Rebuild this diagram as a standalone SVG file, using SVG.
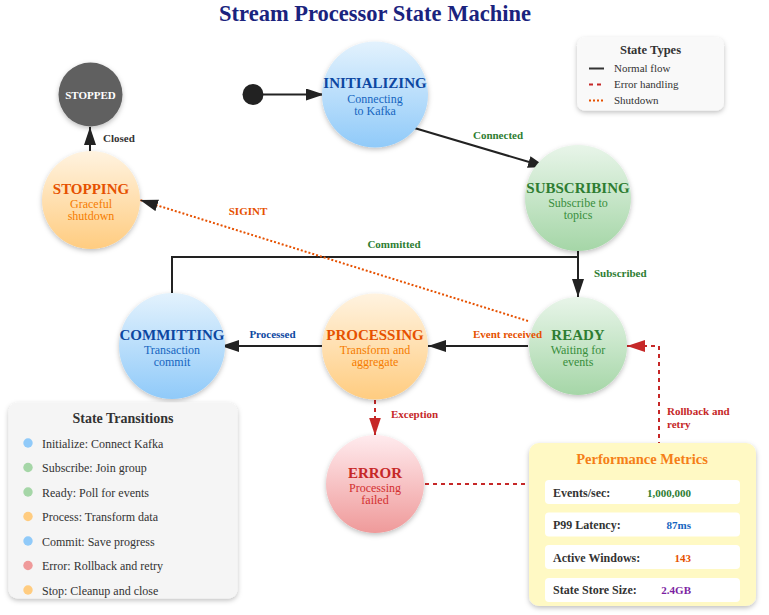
<svg xmlns="http://www.w3.org/2000/svg" width="769" height="615" viewBox="0 0 769 615">
<style>
text{font-family:"Liberation Serif","Times New Roman",serif}
.nt{font-size:15px;font-weight:bold;text-anchor:middle}
.ns{font-size:12px;text-anchor:middle}
.lb{font-size:11px;font-weight:bold}
.solid{fill:none;stroke:#222;stroke-width:2}
.err{fill:none;stroke:#c62828;stroke-width:2;stroke-dasharray:4,4}
.shut{fill:none;stroke:#e65100;stroke-width:2;stroke-dasharray:2,2}
.tr{font-size:12px;fill:#333}
.mk{font-size:12px;font-weight:bold;fill:#333}
.mv{font-size:11px;font-weight:bold;text-anchor:end}
</style>
<defs>
<linearGradient id="gBlue" x1="0" y1="0" x2="0" y2="1"><stop offset="0" stop-color="#e3f2fd"/><stop offset="1" stop-color="#90caf9"/></linearGradient>
<linearGradient id="gGreen" x1="0" y1="0" x2="0" y2="1"><stop offset="0" stop-color="#e8f5e9"/><stop offset="1" stop-color="#a5d6a7"/></linearGradient>
<linearGradient id="gOrange" x1="0" y1="0" x2="0" y2="1"><stop offset="0" stop-color="#fff3e0"/><stop offset="1" stop-color="#ffcc80"/></linearGradient>
<linearGradient id="gRed" x1="0" y1="0" x2="0" y2="1"><stop offset="0" stop-color="#ffebee"/><stop offset="1" stop-color="#ef9a9a"/></linearGradient>
<filter id="sh" x="-30%" y="-30%" width="160%" height="160%"><feDropShadow dx="0" dy="2" stdDeviation="2.5" flood-color="#000" flood-opacity="0.25"/></filter>
<marker id="aBlk" markerUnits="userSpaceOnUse" viewBox="0 0 18 12" markerWidth="18" markerHeight="12" refX="18" refY="6" orient="auto"><path d="M0,0 L18,6 L0,12 z" fill="#222"/></marker>
<marker id="aRed" markerUnits="userSpaceOnUse" viewBox="0 0 18 12" markerWidth="18" markerHeight="12" refX="18" refY="6" orient="auto"><path d="M0,0 L18,6 L0,12 z" fill="#c62828"/></marker>
</defs>
<rect width="769" height="615" fill="#fff"/>
<text x="375" y="21" text-anchor="middle" font-size="22.5" font-weight="bold" fill="#1a237e">Stream Processor State Machine</text>

<g id="connectors">
<path class="solid" d="M263,94.5 L324,94.5" marker-end="url(#aBlk)"/>
<path class="solid" d="M411,127 L546,167" marker-end="url(#aBlk)"/>
<path class="solid" d="M90,152 L90,127" marker-end="url(#aBlk)"/>
<path class="solid" d="M172,294 V257 H578"/>
<path class="solid" d="M578,249 L578,297" marker-end="url(#aBlk)"/>
<path class="solid" d="M528,346 L428,346" marker-end="url(#aBlk)"/>
<path class="solid" d="M322,346 L221,346" marker-end="url(#aBlk)"/>
<path class="err" d="M375,400 L375,435.5" marker-end="url(#aRed)"/>
<path class="err" d="M425,484 H659 V346 H627" marker-end="url(#aRed)"/>
<path class="shut" d="M528,321 L140,200" marker-end="url(#aBlk)"/>
</g>

<g id="start"><circle cx="253" cy="94.5" r="10.5" fill="#222"/></g>

<g id="stopped">
<circle cx="90.5" cy="94.5" r="32" fill="#616161" filter="url(#sh)"/>
<text x="90.5" y="99" text-anchor="middle" font-size="11" font-weight="bold" fill="#fff">STOPPED</text>
</g>

<g id="initializing">
<circle cx="375" cy="94.5" r="53" fill="url(#gBlue)" filter="url(#sh)"/>
<text class="nt" x="375" y="88" fill="#0d47a1">INITIALIZING</text>
<text class="ns" x="375" y="102.5" fill="#1565c0">Connecting</text>
<text class="ns" x="375" y="114.5" fill="#1565c0">to Kafka</text>
</g>

<g id="subscribing">
<circle cx="578" cy="198" r="53" fill="url(#gGreen)" filter="url(#sh)"/>
<text class="nt" x="578" y="192.5" fill="#2e7d32">SUBSCRIBING</text>
<text class="ns" x="578" y="206.5" fill="#388e3c">Subscribe to</text>
<text class="ns" x="578" y="218.5" fill="#388e3c">topics</text>
</g>

<g id="ready">
<circle cx="578" cy="346" r="49" fill="url(#gGreen)" filter="url(#sh)"/>
<text class="nt" x="578" y="340" fill="#2e7d32">READY</text>
<text class="ns" x="578" y="354" fill="#388e3c">Waiting for</text>
<text class="ns" x="578" y="366" fill="#388e3c">events</text>
</g>

<g id="processing">
<circle cx="375" cy="346.5" r="53" fill="url(#gOrange)" filter="url(#sh)"/>
<text class="nt" x="375" y="340" fill="#e65100">PROCESSING</text>
<text class="ns" x="375" y="354" fill="#f57c00">Transform and</text>
<text class="ns" x="375" y="366" fill="#f57c00">aggregate</text>
</g>

<g id="committing">
<circle cx="172" cy="346" r="53" fill="url(#gBlue)" filter="url(#sh)"/>
<text class="nt" x="172" y="340" fill="#0d47a1">COMMITTING</text>
<text class="ns" x="172" y="354" fill="#1565c0">Transaction</text>
<text class="ns" x="172" y="366" fill="#1565c0">commit</text>
</g>

<g id="stopping">
<circle cx="91" cy="200" r="49" fill="url(#gOrange)" filter="url(#sh)"/>
<text class="nt" x="91" y="194" fill="#e65100">STOPPING</text>
<text class="ns" x="91" y="208" fill="#f57c00">Graceful</text>
<text class="ns" x="91" y="220" fill="#f57c00">shutdown</text>
</g>

<g id="error">
<circle cx="375" cy="484" r="49" fill="url(#gRed)" filter="url(#sh)"/>
<text class="nt" x="375" y="478" fill="#c62828">ERROR</text>
<text class="ns" x="375" y="492" fill="#d32f2f">Processing</text>
<text class="ns" x="375" y="504" fill="#d32f2f">failed</text>
</g>

<g id="connector-labels">
<text class="lb" x="498" y="139" text-anchor="middle" fill="#2e7d32">Connected</text>
<text class="lb" x="103" y="142" fill="#333">Closed</text>
<text class="lb" x="594" y="277" fill="#2e7d32">Subscribed</text>
<text class="lb" x="394" y="248" text-anchor="middle" fill="#2e7d32">Committed</text>
<text class="lb" x="507.5" y="338" text-anchor="middle" fill="#e65100">Event received</text>
<text class="lb" x="272.5" y="338" text-anchor="middle" fill="#0d47a1">Processed</text>
<text class="lb" x="391" y="418" fill="#c62828">Exception</text>
<text class="lb" x="667" y="414.5" fill="#c62828">Rollback and</text>
<text class="lb" x="667" y="427.5" fill="#c62828">retry</text>
<text class="lb" x="248" y="215" text-anchor="middle" fill="#e65100">SIGINT</text>
</g>

<g id="legend">
<rect x="577" y="37.5" width="147" height="73" rx="8" fill="#f9f9f9" filter="url(#sh)"/>
<text x="650.5" y="53.5" text-anchor="middle" font-size="12.5" font-weight="bold" fill="#333">State Types</text>
<line x1="589" y1="68.5" x2="604" y2="68.5" stroke="#333" stroke-width="2"/>
<text x="614" y="72" font-size="11" fill="#333">Normal flow</text>
<line x1="589" y1="84.5" x2="604" y2="84.5" stroke="#c62828" stroke-width="2" stroke-dasharray="4,4"/>
<text x="614" y="88" font-size="11" fill="#333">Error handling</text>
<line x1="589" y1="100.5" x2="604" y2="100.5" stroke="#e65100" stroke-width="2" stroke-dasharray="2,2"/>
<text x="614" y="104" font-size="11" fill="#333">Shutdown</text>
</g>

<g id="transitions">
<rect x="8.5" y="402.5" width="229" height="196" rx="9" fill="#f5f5f5" filter="url(#sh)"/>
<text x="123" y="422.5" text-anchor="middle" font-size="14" font-weight="bold" fill="#333">State Transitions</text>
<circle cx="28" cy="443" r="4.7" fill="#90caf9"/><text class="tr" x="42" y="447.5">Initialize: Connect Kafka</text>
<circle cx="28" cy="467.5" r="4.7" fill="#a5d6a7"/><text class="tr" x="42" y="472">Subscribe: Join group</text>
<circle cx="28" cy="492" r="4.7" fill="#a5d6a7"/><text class="tr" x="42" y="496.5">Ready: Poll for events</text>
<circle cx="28" cy="516.5" r="4.7" fill="#ffcc80"/><text class="tr" x="42" y="521">Process: Transform data</text>
<circle cx="28" cy="541" r="4.7" fill="#90caf9"/><text class="tr" x="42" y="545.5">Commit: Save progress</text>
<circle cx="28" cy="565.5" r="4.7" fill="#ef9a9a"/><text class="tr" x="42" y="570">Error: Rollback and retry</text>
<circle cx="28" cy="590" r="4.7" fill="#ffcc80"/><text class="tr" x="42" y="594.5">Stop: Cleanup and close</text>
</g>

<g id="metrics">
<rect x="529" y="443" width="227" height="163" rx="10" fill="#fff9c4" filter="url(#sh)"/>
<text x="642" y="463.5" text-anchor="middle" font-size="14.5" font-weight="bold" fill="#f57f17">Performance Metrics</text>
<rect x="545" y="480" width="195" height="24" rx="4" fill="#fff"/>
<text class="mk" x="553" y="496.5">Events/sec:</text><text class="mv" x="691" y="496.5" fill="#2e7d32">1,000,000</text>
<rect x="545" y="512.5" width="195" height="24" rx="4" fill="#fff"/>
<text class="mk" x="553" y="528.5">P99 Latency:</text><text class="mv" x="691" y="528.5" fill="#1565c0">87ms</text>
<rect x="545" y="545" width="195" height="24" rx="4" fill="#fff"/>
<text class="mk" x="553" y="561.5">Active Windows:</text><text class="mv" x="691" y="561.5" fill="#e65100">143</text>
<rect x="545" y="578" width="195" height="24" rx="4" fill="#fff"/>
<text class="mk" x="553" y="593.5">State Store Size:</text><text class="mv" x="691" y="593.5" fill="#7b1fa2">2.4GB</text>
</g>
</svg>
